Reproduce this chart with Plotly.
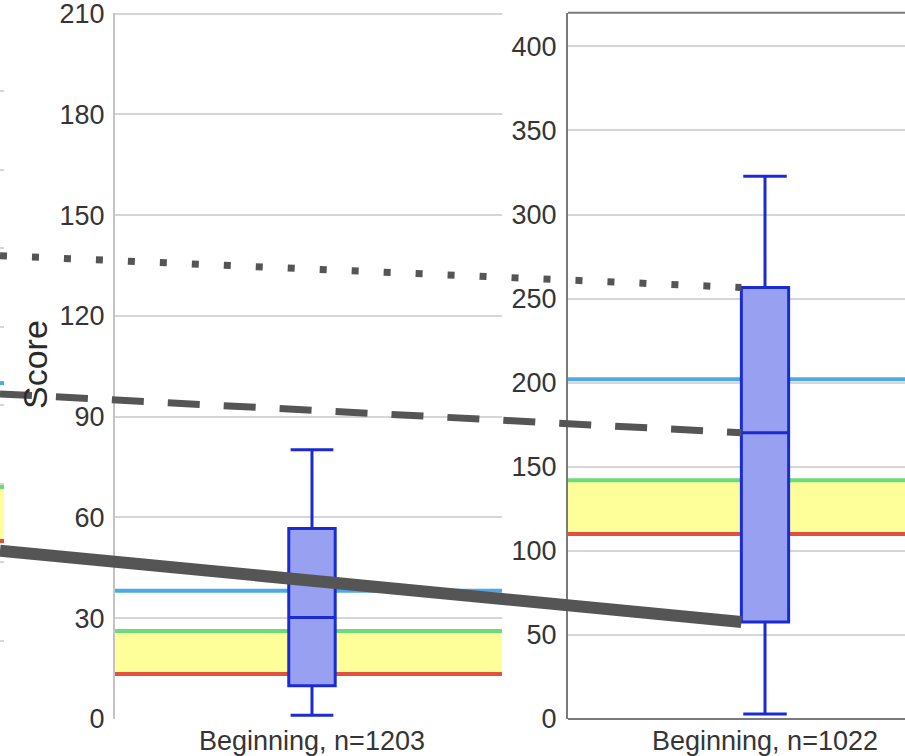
import plotly.graph_objects as go

# ---------------- data ----------------
mid_category = ["Beginning, n=1203"]
mid_lowerfence = [1.1]
mid_q1 = [9.9]
mid_median = [30.2]
mid_q3 = [56.7]
mid_upperfence = [80.2]

right_category = ["Beginning, n=1022"]
right_lowerfence = [3.0]
right_q1 = [57.7]
right_median = [170.2]
right_q3 = [256.6]
right_upperfence = [322.7]

# threshold lines (blue, green, red) per panel
left_thresholds = [214.0, 147.8, 113.4]
mid_thresholds = [38.2, 26.2, 13.4]
right_thresholds = [202.0, 142.0, 110.0]

# connecting lines: value at left edge of view -> right panel box (Q3, median, Q1)
link_start_values = [275.5, 193.3, 100.1]
link_end_values = [right_q3[0], right_median[0], right_q1[0]]

mid_ticks = [0, 30, 60, 90, 120, 150, 180, 210]
right_ticks = [0, 50, 100, 150, 200, 250, 300, 350, 400]

# ---------------- styling ----------------
W, H = 905, 756
FONT = "Liberation Sans, Arial, sans-serif"
TICK_COLOR = "#353535"
GRID = "#d6d6d6"
FRAME = "#7a7a7a"
BOX_FILL = "#98a0f2"
BOX_LINE = "#1b2bd2"
BLUE, GREEN, RED, YELLOW = "#4ea8e6", "#6cdc78", "#e4503e", "#ffff99"
LINK = "#555555"

ydom = [(H - 719) / H, 1 - 12.7 / H]
left_dom = [0, 4 / W]
mid_dom = [115 / W, 502 / W]
right_dom = [568 / W, 1.0]

# right panel: full category width would be 394 px (568..962); only 337 px shown
right_unit_px = 394.0
right_range = [-0.5, -0.5 + (W - 568) / right_unit_px]
overlay_range = [-0.5 - 568 / right_unit_px, right_range[1]]
box_w = 0.12

fig = go.Figure()

fig.add_trace(go.Box(
    x=mid_category, q1=mid_q1, median=mid_median, q3=mid_q3,
    lowerfence=mid_lowerfence, upperfence=mid_upperfence,
    fillcolor=BOX_FILL, line=dict(color=BOX_LINE, width=3),
    whiskerwidth=0.92, width=box_w, boxpoints=False, hoverinfo="skip",
    xaxis="x2", yaxis="y2", showlegend=False))

fig.add_trace(go.Box(
    x=right_category, q1=right_q1, median=right_median, q3=right_q3,
    lowerfence=right_lowerfence, upperfence=right_upperfence,
    fillcolor=BOX_FILL, line=dict(color=BOX_LINE, width=3),
    whiskerwidth=0.92, width=box_w, boxpoints=False, hoverinfo="skip",
    xaxis="x3", yaxis="y3", showlegend=False))

# invisible trace for the left (partially visible) panel
fig.add_trace(go.Scatter(x=[0], y=[None], xaxis="x", yaxis="y", showlegend=False,
                         hoverinfo="skip", mode="markers"))

# connecting lines on full-width overlay axes
link_styles = [dict(width=7, dash="7px,25px"), dict(width=7, dash="32px,24px"), dict(width=12, dash="solid")]
for s, e, st in zip(link_start_values, link_end_values, link_styles):
    fig.add_trace(go.Scatter(
        x=[overlay_range[0], -box_w / 2], y=[s, e], mode="lines",
        line=dict(color=LINK, width=st["width"], dash=st["dash"]),
        xaxis="x4", yaxis="y4", showlegend=False, hoverinfo="skip"))

shapes = []
for xr, yr, th in [("x", "y", left_thresholds), ("x2", "y2", mid_thresholds), ("x3", "y3", right_thresholds)]:
    b, g, r = th
    shapes.append(dict(type="rect", xref=xr + " domain", yref=yr, x0=0, x1=1, y0=r, y1=g,
                       fillcolor=YELLOW, line=dict(width=0), layer="below"))
    for v, c in [(b, BLUE), (g, GREEN), (r, RED)]:
        shapes.append(dict(type="line", xref=xr + " domain", yref=yr, x0=0, x1=1, y0=v, y1=v,
                           line=dict(color=c, width=4), layer="below"))
# top frame of right panel
shapes.append(dict(type="line", xref="x3 domain", yref="y3 domain", x0=0, x1=1, y0=1, y1=1,
                   line=dict(color=FRAME, width=2), layer="above"))

tickfont = dict(family=FONT, size=27, color=TICK_COLOR)
xtickfont = dict(family=FONT, size=27, color=TICK_COLOR)

fig.update_layout(
    width=W, height=H,
    margin=dict(l=0, r=0, t=0, b=0, pad=0),
    paper_bgcolor="white", plot_bgcolor="rgba(0,0,0,0)",
    font=dict(family=FONT, color=TICK_COLOR),
    shapes=shapes,
    xaxis=dict(domain=left_dom, anchor="y", showticklabels=False, showgrid=False,
               zeroline=False, fixedrange=True),
    yaxis=dict(domain=ydom, anchor="x", range=[0, 450], dtick=50, showticklabels=False,
               gridcolor=GRID, gridwidth=2, zeroline=False),
    xaxis2=dict(domain=mid_dom, anchor="y2", type="category", range=[-0.509, 0.491],
                showgrid=False, zeroline=False, showline=False, ticks="",
                tickfont=xtickfont, ticklabelstandoff=3, automargin=False,
                ticklabeloverflow="allow"),
    yaxis2=dict(domain=ydom, anchor="x2", range=[0, 210.3], tickvals=mid_ticks,
                gridcolor=GRID, gridwidth=2, zeroline=False, showline=True,
                linecolor="#c4c4c4", linewidth=2, ticks="", tickfont=tickfont,
                ticklabelstandoff=3, automargin=False, ticklabeloverflow="allow"),
    xaxis3=dict(domain=right_dom, anchor="y3", type="category", range=right_range,
                showgrid=False, zeroline=False, showline=False, ticks="",
                tickfont=xtickfont, ticklabelstandoff=3, automargin=False,
                ticklabeloverflow="allow"),
    yaxis3=dict(domain=ydom, anchor="x3", range=[0, 420], tickvals=right_ticks,
                gridcolor=GRID, gridwidth=2, zeroline=True, zerolinecolor=FRAME,
                zerolinewidth=2, showline=True, linecolor=FRAME, linewidth=2,
                ticks="", tickfont=tickfont, ticklabelstandoff=4, automargin=False,
                ticklabeloverflow="allow"),
    xaxis4=dict(domain=[0, 1], anchor="y4", range=overlay_range, visible=False, fixedrange=True),
    yaxis4=dict(domain=ydom, anchor="x4", range=[0, 420], visible=False, fixedrange=True),
    annotations=[dict(text="Score", xref="paper", yref="paper", x=35 / W, y=1 - 365 / H,
                      textangle=-90, showarrow=False, xanchor="center", yanchor="middle",
                      font=dict(family=FONT, size=34, color="#2a2a2a"))],
)

fig.write_html("out.html", config={"displayModeBar": False},
               post_script="document.body.style.margin='0';")
